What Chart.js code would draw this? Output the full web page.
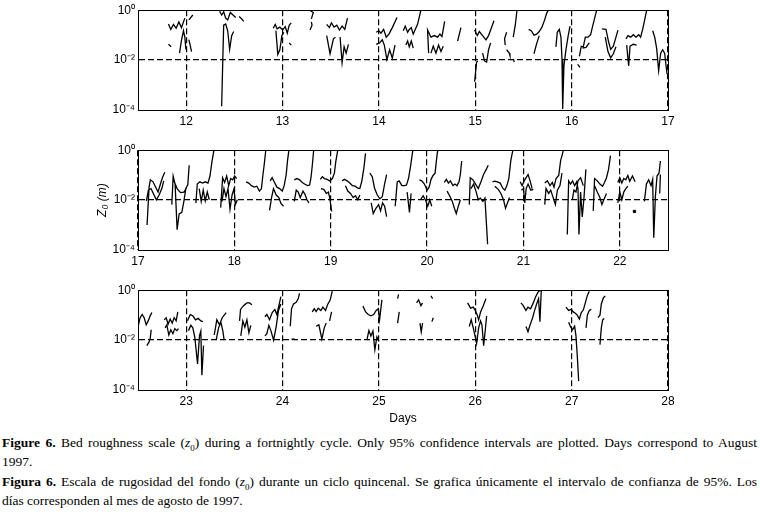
<!DOCTYPE html>
<html>
<head>
<meta charset="utf-8">
<script src="https://cdn.jsdelivr.net/npm/chart.js@4.4.1/dist/chart.umd.min.js"></script>
<style>
  body { margin: 0; background: #fff; }
  #lienzo { position: relative; width: 760px; height: 514px; overflow: hidden; }
  canvas { position: absolute; left: 0; }
  .pie { position: absolute; left: 2px; width: 755px; font-family: "Liberation Serif", "Times New Roman", serif;
         font-size: 13.5px; line-height: 16px; color: #000; white-space: nowrap; }
  .just { text-align: justify; text-align-last: justify; white-space: normal; }
  sub { font-size: 9px; line-height: 0; }
</style>
</head>
<body>
<div id="lienzo">
  <canvas id="panel1" width="760" height="135" style="top:0px"></canvas>
  <canvas id="panel2" width="760" height="135" style="top:140px"></canvas>
  <canvas id="panel3" width="760" height="150" style="top:280px"></canvas>
  <div class="pie just" style="top:435px"><b>Figure 6.</b> Bed roughness scale (<i>z</i><sub>0</sub>) during a fortnightly cycle. Only 95% confidence intervals are plotted. Days correspond to August</div>
  <div class="pie" style="top:454px">1997.</div>
  <div class="pie just" style="top:474px"><b>Figura 6.</b> Escala de rugosidad del fondo (<i>z</i><sub>0</sub>) durante un ciclo quincenal. Se grafica únicamente el intervalo de confianza de 95%. Los</div>
  <div class="pie" style="top:493px">días corresponden al mes de agosto de 1997.</div>
</div>
<script>
// escala logaritmica comun
const yMarcas = [1e-4, 1e-2, 1];
const yEtiquetas = ['10⁻⁴', '10⁻²', '10⁰'];

// panel 1: dias 11.5 - 17 (null separa tramos)
const marcas1 = [12, 13, 14, 15, 16, 17];
const dias1 = [
  11.816, 11.844, null,
  11.816, 11.840, 11.868, 11.896, 11.924, 11.951, 11.986, null,
  11.931, 11.951, 11.972, 11.986, 11.997, null,
  12.028, 12.069, null,
  12.028, 12.056, null,
  12.347, 12.368, 12.389, 12.410, 12.431, 12.458, 12.486, 12.514, null,
  12.549, 12.569, 12.597, null,
  12.368, 12.389, 12.410, 12.431, 12.451, 12.472, 12.493, null,
  12.903, 12.924, 12.944, 12.972, 13.000, 13.028, 13.049, 13.069, 13.090, null,
  12.931, 12.951, 12.972, 12.993, 13.014, null,
  13.069, 13.090, null,
  13.285, 13.319, 13.299, null,
  13.299, 13.306, 13.285, null,
  13.458, 13.486, 13.507, 13.535, 13.563, 13.590, 13.618, 13.646, 13.674, null,
  13.458, 13.493, 13.528, 13.549, null,
  13.597, 13.618, 13.639, 13.660, 13.684, null,
  13.972, 14.000, 14.021, 14.049, 14.076, 14.104, 14.139, 14.188, null,
  13.972, 14.007, 14.035, 14.056, 14.083, 14.111, 14.139, 14.167, null,
  14.253, 14.273, 14.298, 14.315, 14.336, 14.356, 14.377, 14.401, 14.412, 14.436, null,
  14.280, 14.298, 14.315, 14.336, 14.356, null,
  14.516, 14.505, 14.540, 14.574, 14.609, 14.633, 14.654, 14.671, 14.682, null,
  14.540, 14.564, 14.592, 14.619, 14.644, 14.668, null,
  14.817, 14.851, null,
  14.993, 15.021, 15.042, 15.076, 15.111, 15.138, 15.166, 15.194, null,
  14.993, 15.014, 15.028, null,
  15.076, 15.097, 15.118, 15.138, 15.159, null,
  15.325, 15.304, 15.311, null,
  15.325, 15.353, 15.360, null,
  15.394, 15.415, 15.433, null,
  15.394, 15.405, null,
  15.554, 15.581, 15.609, 15.637, 15.664, 15.692, 15.720, 15.740, 15.758, null,
  15.609, 15.637, 15.664, null,
  15.837, 15.851, 15.872, 15.889, 15.900, 15.907, 15.920, 15.941, 15.962, 15.983, null,
  16.062, 16.087, null,
  16.080, 16.100, 16.121, 16.142, 16.170, 16.197, 16.218, 16.239, 16.260, null,
  16.114, 16.149, 16.183, null,
  16.315, 16.356, 16.384, 16.405, 16.433, 16.460, 16.481, null,
  16.349, 16.377, 16.405, 16.433, 16.460, null,
  16.564, 16.585, 16.612, 16.640, 16.668, 16.696, 16.716, 16.737, 16.758, 16.779, null,
  16.571, 16.592, 16.606, 16.640, 16.675, null,
  16.841, 16.862, 16.882, 16.903, 16.924, 16.945, 16.965, 16.990
];
const z0Panel1 = [
  0.043, 0.034, null,
  0.28, 0.17, 0.27, 0.19, 0.34, 0.20, 0.48, null,
  0.019, 0.062, 0.15, 0.083, 0.027, null,
  0.41, 0.64, null,
  0.066, 0.022, null,
  0.91, 0.64, 0.86, 0.48, 0.41, 0.81, 0.64, 0.51, null,
  0.56, 0.48, 0.36, null,
  1.4e-4, 0.25, 0.28, 0.15, 0.027, 0.096, 0.14, null,
  0.19, 0.27, 0.18, 0.21, 0.16, 0.22, 0.12, 0.25, 0.31, null,
  0.15, 0.017, 0.026, 0.096, 0.13, null,
  0.049, 0.040, null,
  0.97, 0.81, 0.45, null,
  0.34, 0.25, 0.16, null,
  0.27, 0.20, 0.31, 0.21, 0.25, 0.16, 0.23, 0.17, 0.48, null,
  0.096, 0.018, 0.071, 0.083, null,
  0.083, 0.0079, 0.034, 0.019, 0.043, null,
  0.13, 0.15, 0.12, 0.17, 0.083, 0.11, 0.20, 0.51, null,
  0.043, 0.049, 0.065, 0.040, 0.0106, 0.026, 0.012, 0.040, null,
  0.15, 0.23, 0.13, 0.17, 0.20, 0.11, 0.17, 0.27, 0.41, 1.0, null,
  0.040, 0.058, 0.034, 0.058, 0.030, null,
  0.019, 0.16, 0.083, 0.096, 0.083, 0.11, 0.088, 0.20, 0.36, null,
  0.019, 0.036, 0.019, 0.040, 0.022, 0.036, null,
  0.058, 0.20, null,
  0.16, 0.096, 0.14, 0.096, 0.065, 0.096, 0.19, 0.38, null,
  0.00136, 0.0084, 0.0092, null,
  0.019, 0.0091, 0.0084, 0.026, 0.049, null,
  0.13, 0.071, 0.040, null,
  0.026, 0.019, 0.015, null,
  0.083, 0.25, 1.0, null,
  0.011, 0.0084, null,
  0.17, 0.15, 0.10, 0.11, 0.14, 0.21, 0.41, 0.75, 1.0, null,
  0.018, 0.046, 0.096, null,
  0.034, 0.13, 0.17, 0.083, 0.0106, 1.1e-4, 0.0059, 0.026, 0.083, 0.23, null,
  0.0068, 0.0051, null,
  0.0142, 0.036, 0.034, 0.083, 0.083, 0.104, 0.23, 0.48, 1.0, null,
  0.030, 0.032, 0.049, null,
  0.18, 0.17, 0.053, 0.027, 0.036, 0.083, 0.16, null,
  0.083, 0.022, 0.0123, 0.018, 0.034, null,
  0.071, 0.096, 0.083, 0.104, 0.083, 0.104, 0.083, 0.17, 0.41, 1.0, null,
  0.040, 0.0059, 0.036, 0.043, 0.040, null,
  0.15, 0.083, 0.030, 0.0038, 0.019, 0.026, 0.019, 0.0028
];

// panel 2: dias 17 - 22.5
const marcas2 = [17, 18, 19, 20, 21, 22];
const dias2 = [
  17.094, 17.115, 17.128, 17.156, 17.184, 17.208, 17.233, 17.253, 17.278, null,
  17.087, 17.108, 17.135, 17.163, 17.191, 17.219, 17.247, 17.267, null,
  17.351, 17.365, 17.385, 17.406, 17.427, 17.455, 17.476, 17.497, 17.517, 17.531, null,
  17.372, 17.406, 17.441, 17.476, 17.503, null,
  17.601, 17.615, 17.642, 17.670, 17.698, 17.726, 17.747, 17.767, 17.788, null,
  17.635, 17.656, 17.677, 17.698, 17.719, 17.740, null,
  17.858, 17.878, 17.899, 17.920, 17.941, 17.962, 17.983, 18.003, 18.024, null,
  17.872, 17.892, 17.913, 17.934, 17.955, 17.976, 17.997, 18.010, 18.031, null,
  18.122, 18.149, 18.177, 18.205, 18.233, 18.260, 18.281, 18.295, 18.309, 18.326, null,
  18.372, 18.392, 18.413, 18.441, 18.469, 18.497, 18.517, 18.538, 18.552, 18.566, null,
  18.365, 18.385, 18.406, 18.434, 18.462, 18.483, 18.510, null,
  18.622, 18.649, 18.677, 18.705, 18.733, 18.760, 18.781, 18.795, 18.809, 18.823, null,
  18.622, 18.642, 18.663, 18.684, 18.712, 18.733, 18.753, 18.774, null,
  18.892, 18.913, 18.934, 18.962, 18.990, 19.017, 19.038, 19.052, 19.073, null,
  18.899, 18.927, 18.955, 18.976, 18.990, 19.010, null,
  19.118, 19.142, 19.170, 19.198, 19.226, 19.253, 19.281, 19.302, 19.323, 19.344, 19.361, null,
  19.153, 19.177, 19.205, 19.233, 19.257, 19.281, 19.302, null,
  19.406, 19.431, 19.455, 19.483, 19.510, 19.535, 19.559, 19.580, null,
  19.420, 19.441, 19.469, 19.497, 19.517, 19.538, 19.559, 19.580, null,
  19.669, 19.690, 19.710, 19.738, 19.766, 19.786, 19.807, 19.828, 19.852, null,
  19.793, 19.817, 19.834, null,
  19.921, 19.945, 19.972, 20.000, 20.021, 20.041, 20.062, 20.083, 20.097, 20.110, null,
  19.931, 19.959, 19.986, 20.007, 20.028, 20.048, null,
  20.179, 20.200, 20.221, 20.241, 20.269, 20.290, 20.310, 20.331, 20.345, 20.359, null,
  20.207, 20.234, 20.262, 20.283, 20.303, 20.324, 20.345, null,
  20.438, 20.448, 20.476, 20.503, 20.531, 20.559, 20.586, 20.614, 20.634, null,
  20.455, 20.483, 20.510, 20.531, 20.552, 20.579, 20.600, 20.614, 20.628, null,
  20.679, 20.703, 20.731, 20.759, 20.786, 20.807, 20.828, 20.848, 20.869, 20.890, null,
  20.703, 20.738, 20.766, 20.793, 20.814, 20.834, 20.855, null,
  20.966, 20.986, 21.007, 21.028, 21.048, 21.069, 21.090, null,
  20.979, 21.000, 21.014, 21.028, 21.048, 21.076, 21.103, null,
  21.221, 21.248, 21.276, 21.300, 21.317, 21.338, 21.366, 21.386, 21.400, 21.414, null,
  21.221, 21.234, 21.262, 21.283, 21.310, 21.331, 21.352, 21.379, 21.400, null,
  21.455, 21.469, 21.490, 21.510, 21.531, 21.552, 21.566, 21.576, 21.593, 21.610, 21.628, 21.648, null,
  21.507, 21.524, 21.545, 21.566, 21.593, 21.621, null,
  21.724, 21.738, 21.766, 21.793, 21.821, 21.841, 21.862, 21.883, 21.903, null,
  21.738, 21.766, 21.793, 21.814, 21.834, 21.862, null,
  21.979, 22.000, 22.021, 22.041, 22.062, 22.083, 22.103, 22.131, 22.159, null,
  21.979, 22.000, 22.021, 22.041, 22.062, 22.083, null,
  22.255, 22.276, 22.300, 22.324, 22.341, 22.352, 22.369, 22.386, 22.407, 22.421, null,
  22.414, 22.421
];
const z0Panel2 = [
  0.001, 0.033, 0.065, 0.054, 0.033, 0.021, 0.044, 0.079, 0.13, null,
  0.0094, 0.025, 0.029, 0.017, 0.0103, 0.016, 0.029, 0.059, null,
  0.0066, 0.092, 0.044, 0.00065, 0.0028, 0.0032, 0.0089, 0.030, 0.041, 0.25, null,
  0.059, 0.029, 0.020, 0.021, 0.030, null,
  0.0077, 0.044, 0.054, 0.048, 0.054, 0.048, 0.092, 0.34, 1.0, null,
  0.029, 0.0089, 0.025, 0.0094, 0.021, 0.0103, null,
  0.0050, 0.079, 0.051, 0.092, 0.038, 0.073, 0.065, 0.092, 0.073, null,
  0.0089, 0.029, 0.0138, 0.029, 0.0043, 0.016, 0.029, 0.0066, 0.0103, null,
  0.054, 0.048, 0.038, 0.033, 0.036, 0.023, 0.029, 0.092, 0.25, 1.0, null,
  0.059, 0.079, 0.054, 0.033, 0.029, 0.023, 0.038, 0.106, 0.39, 1.0, null,
  0.0039, 0.012, 0.029, 0.016, 0.0126, 0.0074, 0.0057, null,
  0.065, 0.073, 0.065, 0.051, 0.043, 0.038, 0.040, 0.079, 0.25, 1.0, null,
  0.0089, 0.025, 0.021, 0.0126, 0.023, 0.017, 0.0103, 0.0077, null,
  0.068, 0.087, 0.073, 0.068, 0.059, 0.073, 0.12, 0.34, 1.0, null,
  0.029, 0.027, 0.0185, 0.021, 0.012, 0.0035, null,
  0.059, 0.068, 0.059, 0.048, 0.038, 0.036, 0.030, 0.029, 0.059, 0.19, 0.75, null,
  0.038, 0.023, 0.0185, 0.0126, 0.015, 0.0103, 0.016, null,
  0.12, 0.087, 0.030, 0.016, 0.0112, 0.0138, 0.044, 0.106, null,
  0.0077, 0.0029, 0.0047, 0.0066, 0.0037, 0.0077, 0.0057, 0.0022, null,
  0.0057, 0.054, 0.059, 0.038, 0.038, 0.040, 0.073, 0.22, 1.0, null,
  0.021, 0.0032, 0.0185, null,
  0.065, 0.059, 0.044, 0.025, 0.033, 0.068, 0.097, 0.12, 0.39, 1.0, null,
  0.0103, 0.015, 0.0094, 0.0057, 0.0103, 0.0057, null,
  0.051, 0.068, 0.048, 0.059, 0.038, 0.044, 0.038, 0.054, 0.106, 0.37, null,
  0.023, 0.015, 0.0089, 0.0047, 0.0029, 0.0057, 0.0103, null,
  0.0066, 0.079, 0.065, 0.044, 0.029, 0.054, 0.106, 0.17, 0.25, null,
  0.029, 0.044, 0.021, 0.0103, 0.012, 0.0089, 0.012, 0.0015, 0.00017, null,
  0.054, 0.057, 0.054, 0.048, 0.030, 0.025, 0.038, 0.073, 0.39, 1.0, null,
  0.036, 0.027, 0.0185, 0.0103, 0.0047, 0.0077, 0.0126, null,
  0.054, 0.038, 0.059, 0.079, 0.106, 0.059, 0.029, null,
  0.025, 0.029, 0.0077, 0.029, 0.044, 0.025, 0.027, null,
  0.048, 0.059, 0.038, 0.051, 0.033, 0.073, 0.097, 0.39, 0.61, 1.0, null,
  0.0066, 0.029, 0.0185, 0.025, 0.012, 0.0066, 0.025, 0.038, 0.12, null,
  0.00042, 0.059, 0.044, 0.059, 0.038, 0.054, 0.029, 0.00042, 0.021, 0.0021, 0.012, 0.17, null,
  0.0103, 0.025, 0.021, 0.059, 0.079, 0.038, null,
  0.0037, 0.073, 0.059, 0.044, 0.036, 0.051, 0.079, 0.17, 0.61, null,
  0.038, 0.021, 0.0126, 0.0066, 0.0103, 0.0185, null,
  0.051, 0.079, 0.048, 0.073, 0.065, 0.097, 0.057, 0.092, 0.054, null,
  0.0077, 0.021, 0.0103, 0.021, 0.029, 0.036, null,
  0.0089, 0.044, 0.065, 0.038, 0.068, 0.00031, 0.0138, 0.092, 0.12, 0.37, null,
  0.0185, 0.106
];
// punto aislado del panel 2
const diasPunto2 = [22.152];
const z0Punto2 = [0.0035];

// panel 3: dias 22.5 - 28
const marcas3 = [23, 24, 25, 26, 27, 28];
const dias3 = [
  22.505, 22.522, 22.543, 22.564, 22.585, 22.606, 22.626, 22.644, null,
  22.592, 22.612, 22.626, 22.637, null,
  22.772, 22.792, 22.813, 22.834, 22.855, 22.875, 22.896, 22.913, null,
  22.782, 22.799, 22.820, 22.841, 22.862, 22.882, 22.903, 22.920, null,
  23.014, 23.042, 23.069, 23.097, 23.125, 23.152, 23.173, null,
  23.024, 23.048, 23.069, 23.090, 23.118, 23.138, 23.152, 23.163, 23.180, null,
  23.291, 23.318, 23.346, 23.374, 23.415, null,
  23.311, 23.336, 23.360, 23.381, 23.394, null,
  23.554, 23.564, 23.595, 23.630, 23.657, 23.682, null,
  23.567, 23.588, 23.609, 23.630, 23.651, 23.671, null,
  23.817, 23.837, 23.865, 23.893, 23.920, 23.941, 23.962, 23.983, null,
  23.817, 23.837, 23.858, 23.879, 23.907, 23.934, 23.958, 23.983, null,
  24.080, 24.093, 24.114, 24.142, 24.163, 24.176, null,
  24.093, 24.128, null,
  24.308, 24.329, 24.349, 24.370, 24.398, 24.419, 24.446, 24.467, 24.495, 24.516, null,
  24.349, 24.377, 24.408, 24.433, 24.453, null,
  24.488, 24.509, null,
  24.834, 24.862, 24.889, 24.917, 24.945, 24.972, 24.993, 25.007, 25.031, null,
  24.875, 24.896, 24.917, 24.938, 24.958, 24.979, 25.000, null,
  25.194, 25.204, null,
  25.194, 25.211, null,
  25.391, 25.412, 25.436, 25.453, null,
  25.426, 25.439, 25.453, null,
  25.540, 25.557, null,
  25.550, 25.564, null,
  25.920, 25.952, 25.979, 26.000, 26.021, 26.035, 26.055, 26.083, 26.111, null,
  25.938, 25.958, 25.979, 26.000, 26.014, 26.035, 26.055, 26.069, 26.087, 26.104, 26.118, null,
  26.474, 26.498, 26.526, 26.547, 26.574, 26.602, 26.623, 26.651, 26.671, 26.692, null,
  26.526, 26.547, 26.567, 26.595, 26.616, 26.637, 26.657, 26.671, 26.685, null,
  26.941, 26.969, 26.997, 27.017, 27.038, 27.059, 27.080, 27.100, 27.121, 27.142, 27.163, 27.183, null,
  26.969, 26.990, 27.010, 27.031, 27.045, 27.059, 27.073, null,
  27.149, 27.163, 27.183, 27.204, null,
  27.273, 27.294, 27.308, 27.329, 27.349, null,
  27.294, 27.308, 27.322, 27.339
];
const z0Panel3 = [
  0.041, 0.079, 0.106, 0.079, 0.041, 0.059, 0.094, 0.127, null,
  0.0060, 0.0081, 0.0110, 0.026, null,
  0.065, 0.079, 0.044, 0.070, 0.048, 0.079, 0.059, 0.135, null,
  0.031, 0.041, 0.016, 0.026, 0.018, 0.029, 0.024, 0.029, null,
  0.059, 0.106, 0.094, 0.065, 0.074, 0.059, 0.055, null,
  0.024, 0.039, 0.031, 0.0126, 0.0011, 0.0147, 0.023, 0.00039, 0.0060, null,
  0.016, 0.065, 0.041, 0.079, 0.127, null,
  0.010, 0.031, 0.052, 0.023, 0.010, null,
  0.059, 0.17, 0.24, 0.31, 0.31, 0.26, null,
  0.0147, 0.059, 0.033, 0.065, 0.0196, 0.039, null,
  0.086, 0.106, 0.066, 0.127, 0.17, 0.106, 0.24, 0.55, null,
  0.0147, 0.018, 0.039, 0.024, 0.010, 0.035, 0.155, 0.28, null,
  0.036, 0.18, 0.28, 0.33, 0.46, 0.75, null,
  0.011, 0.011, null,
  0.135, 0.18, 0.14, 0.19, 0.155, 0.21, 0.155, 0.26, 0.41, 0.91, null,
  0.036, 0.041, 0.011, 0.031, 0.048, null,
  0.059, 0.135, null,
  0.23, 0.135, 0.106, 0.094, 0.106, 0.155, 0.18, 0.065, 0.41, null,
  0.010, 0.024, 0.0147, 0.023, 0.0041, 0.0134, 0.0089, null,
  0.46, 0.68, null,
  0.048, 0.135, null,
  0.31, 0.41, 0.24, 0.31, null,
  0.048, 0.0215, 0.048, null,
  0.59, 0.46, null,
  0.055, 0.079, null,
  0.31, 0.19, 0.21, 0.155, 0.10, 0.065, 0.135, 0.24, 0.46, null,
  0.035, 0.065, 0.031, 0.0134, 0.0074, 0.031, 0.059, 0.041, 0.0060, 0.026, 0.094, null,
  0.31, 0.24, 0.155, 0.21, 0.18, 0.31, 0.51, 0.83, 1.0, 0.91, null,
  0.035, 0.0215, 0.039, 0.079, 0.155, 0.28, 0.46, 0.055, 1.0, null,
  0.21, 0.155, 0.17, 0.135, 0.12, 0.10, 0.070, 0.127, 0.16, 0.31, 0.62, 0.91, null,
  0.052, 0.033, 0.026, 0.036, 0.0147, 0.0022, 0.00023, null,
  0.031, 0.10, 0.155, 0.17, null,
  0.079, 0.10, 0.28, 0.49, 0.59, null,
  0.0066, 0.031, 0.065, 0.074
];

const fuente = { family: '"Liberation Sans", Arial, sans-serif', size: 12 };

function dibujarPanel(id, dias, z0, xMin, xMax, marcas, extra) {
    const datasets = [{
        data: dias.map((d, i) => ({ x: d, y: z0[i] })),
        borderColor: '#000',
        borderWidth: 1.3,
        pointRadius: 0,
        spanGaps: false,
        tension: 0
    }];
    if (extra.puntos) {
        datasets.push({
            data: extra.puntos[0].map((d, i) => ({ x: d, y: extra.puntos[1][i] })),
            showLine: false,
            pointStyle: 'rect',
            pointRadius: 1.6,
            backgroundColor: '#000',
            borderColor: '#000'
        });
    }
    new Chart(document.getElementById(id), {
        type: 'line',
        data: { datasets: datasets },
        options: {
            responsive: false,
            animation: false,
            events: [],
            layout: { padding: { left: 95, right: 0, top: 0, bottom: 0 } },
            plugins: { legend: { display: false }, tooltip: { enabled: false } },
            scales: {
                x: {
                    type: 'linear',
                    position: 'bottom',
                    min: xMin,
                    max: xMax,
                    afterBuildTicks: s => { s.ticks = marcas.map(v => ({ value: v })); },
                    afterFit: s => { s.height = extra.altoX; },
                    ticks: { font: fuente, color: '#000', padding: 4, maxRotation: 0 },
                    grid: { color: '#000', lineWidth: 1.2, drawTicks: false },
                    border: { display: true, color: '#000', width: 1, dash: [6, 3] },
                    title: {
                        display: !!extra.tituloX,
                        text: extra.tituloX || '',
                        font: fuente,
                        color: '#000',
                        padding: { top: 2, bottom: 4 }
                    }
                },
                y: {
                    type: 'logarithmic',
                    position: 'left',
                    min: 1e-4,
                    max: 1,
                    afterBuildTicks: s => { s.ticks = yMarcas.map(v => ({ value: v })); },
                    afterFit: s => { s.width = 43; },
                    ticks: {
                        font: fuente,
                        color: '#000',
                        padding: 3,
                        callback: (v, i) => yEtiquetas[i]
                    },
                    grid: {
                        color: c => (c.tick && c.tick.value === 1e-2) ? '#000' : 'rgba(0,0,0,0)',
                        lineWidth: 1.2,
                        drawTicks: false
                    },
                    border: { display: true, color: '#000', width: 1, dash: [6, 3] },
                    title: {
                        display: !!extra.tituloY,
                        text: extra.tituloY || '',
                        font: { family: fuente.family, size: 12, style: 'italic' },
                        color: '#000',
                        padding: { top: 0, bottom: 0 }
                    }
                },
                xTop: {
                    type: 'linear',
                    position: 'top',
                    afterFit: s => { s.height = 4; },
                    ticks: { display: false },
                    grid: { display: false, drawTicks: false },
                    border: { display: true, color: '#000', width: 1 }
                },
                yRight: {
                    type: 'linear',
                    position: 'right',
                    afterFit: s => { s.width = 92; },
                    ticks: { display: false },
                    grid: { display: false, drawTicks: false },
                    border: { display: true, color: '#000', width: 1 }
                }
            }
        }
    });
}

dibujarPanel('panel1', dias1, z0Panel1, 11.5, 17, marcas1, { altoX: 25 });
dibujarPanel('panel2', dias2, z0Panel2, 17, 22.5, marcas2,
    { altoX: 25, tituloY: 'Z₀ (m)', puntos: [diasPunto2, z0Punto2] });
dibujarPanel('panel3', dias3, z0Panel3, 22.5, 28, marcas3, { altoX: 40, tituloX: 'Days' });
</script>
</body>
</html>
